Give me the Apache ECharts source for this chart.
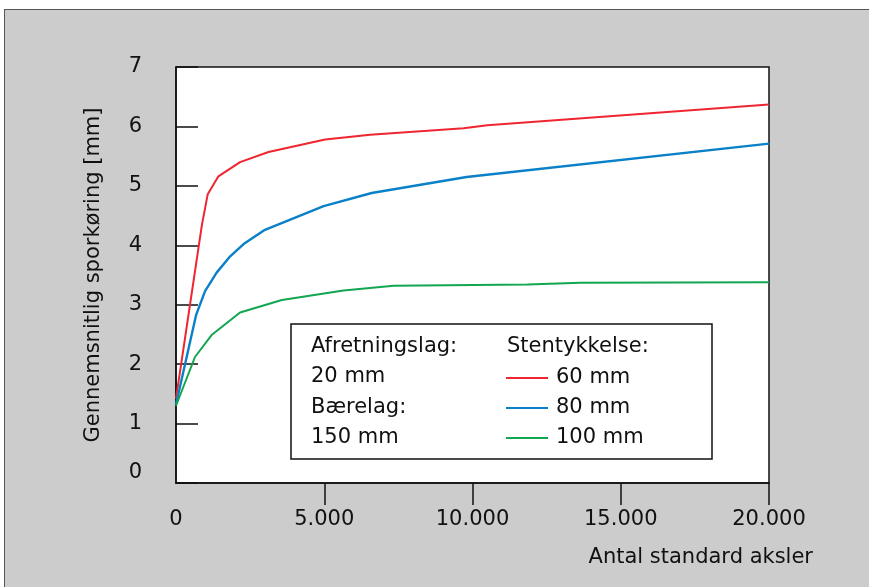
<!DOCTYPE html>
<html>
<head>
<meta charset="utf-8">
<script src="https://cdn.jsdelivr.net/npm/echarts@6/dist/echarts.min.js"></script>
<style>
  html, body { margin: 0; padding: 0; background: #fff; }
  #wrap { position: relative; width: 869px; height: 587px; overflow: hidden; }
  #panel { position: absolute; left: 4px; top: 9px; width: 900px; height: 600px;
           background: #cccccc; border-top: 1px solid #555; border-left: 1px solid #555; }
  #main { position: absolute; left: 0; top: 0; width: 869px; height: 587px; }
</style>
</head>
<body>
<div id="wrap">
  <div id="panel"></div>
  <div id="main"></div>
</div>
<script>
// aflæste værdier: [antal standard aksler, sporkøring mm]
var seriesNames = ['60 mm', '80 mm', '100 mm'];
var red60 = [[0, 1.42], [870, 4.33], [1070, 4.86], [1430, 5.16], [2160, 5.40], [3120, 5.57],
             [5030, 5.78], [6550, 5.86], [9700, 5.97], [10500, 6.02], [20000, 6.37]];
var blue80 = [[0, 1.32], [680, 2.83], [980, 3.23], [1370, 3.54], [1800, 3.80], [2280, 4.02],
              [3000, 4.26], [4980, 4.66], [6600, 4.88], [9800, 5.15], [20000, 5.71]];
var green100 = [[0, 1.30], [640, 2.12], [1200, 2.49], [2160, 2.87], [3570, 3.08], [5650, 3.24],
                [7340, 3.32], [11850, 3.34], [13650, 3.37], [20000, 3.38]];
var xTicks = [5000, 10000, 15000, 20000];
var infoLines = ['Afretningslag:', '20 mm', 'Bærelag:', '150 mm'];

var font = 'DejaVu Sans';
var myChart = echarts.init(document.getElementById('main'));

var option = {
    backgroundColor: 'transparent',
    animation: false,
    textStyle: { fontFamily: font },
    grid: {
        left: 176, top: 67, right: 100, bottom: 104,
        show: true, backgroundColor: '#fff', borderColor: '#111', borderWidth: 1.5
    },
    xAxis: {
        type: 'value',
        min: 0, max: 20000, interval: 5000,
        name: 'Antal standard aksler',
        nameLocation: 'end',
        nameGap: 44,
        nameTextStyle: {
            fontFamily: font, fontSize: 21, color: '#111',
            align: 'right', verticalAlign: 'top', padding: [64, 0, 0, 0]
        },
        axisLine: { show: true, lineStyle: { color: '#111', width: 1.5 } },
        axisTick: { show: true, inside: false, length: 22, customValues: xTicks,
                    lineStyle: { color: '#111', width: 1.5 } },
        axisLabel: {
            margin: 26, fontSize: 21, color: '#111', fontFamily: font,
            formatter: function (v) { return String(v).replace(/\B(?=(\d{3})+(?!\d))/g, '.'); }
        },
        splitLine: { show: false }
    },
    yAxis: {
        type: 'value',
        min: 0, max: 7, interval: 1,
        name: 'Gennemsnitlig sporkøring [mm]',
        nameLocation: 'middle',
        nameGap: 72,
        nameTextStyle: { fontFamily: font, fontSize: 21, color: '#111' },
        axisLine: { show: true, lineStyle: { color: '#111', width: 1.5 } },
        axisTick: { show: true, inside: true, length: 22, lineStyle: { color: '#111', width: 1.5 } },
        axisLabel: { margin: 34, fontSize: 21, color: '#111', fontFamily: font,
                     verticalAlignMinLabel: 'bottom' },
        splitLine: { show: false }
    },
    legend: {
        orient: 'vertical',
        z: 200,
        left: 506, top: 363,
        padding: 0,
        itemWidth: 42, itemHeight: 2, itemGap: 0,
        icon: 'rect',
        textStyle: { fontFamily: font, fontSize: 21, color: '#111', lineHeight: 30, padding: [0, 0, 0, 3] },
        data: seriesNames
    },
    graphic: [
        {
            type: 'rect', z: 100,
            shape: { x: 291, y: 324, width: 421, height: 135 },
            style: { fill: '#fff', stroke: '#111', lineWidth: 1.5 }
        },
        {
            type: 'text', z: 101, left: 507, top: 336,
            style: { text: 'Stentykkelse:', font: '21px "' + font + '"', fill: '#111' }
        }
    ].concat(infoLines.map(function (t, i) {
        return {
            type: 'text', z: 101, left: 311, top: 336 + i * 30.5,
            style: { text: t, font: '21px "' + font + '"', fill: '#111' }
        };
    })),
    series: [
        { name: seriesNames[0], type: 'line', data: red60, symbol: 'none', z: 3,
          lineStyle: { color: '#ef2530', width: 2 }, itemStyle: { color: '#ef2530' } },
        { name: seriesNames[1], type: 'line', data: blue80, symbol: 'none', z: 3,
          lineStyle: { color: '#0a80c8', width: 2.4 }, itemStyle: { color: '#0a80c8' } },
        { name: seriesNames[2], type: 'line', data: green100, symbol: 'none', z: 3,
          lineStyle: { color: '#12a650', width: 2 }, itemStyle: { color: '#12a650' } }
    ]
};
if (option && typeof option === "object") {
    myChart.setOption(option, true);
}
</script>
</body>
</html>
